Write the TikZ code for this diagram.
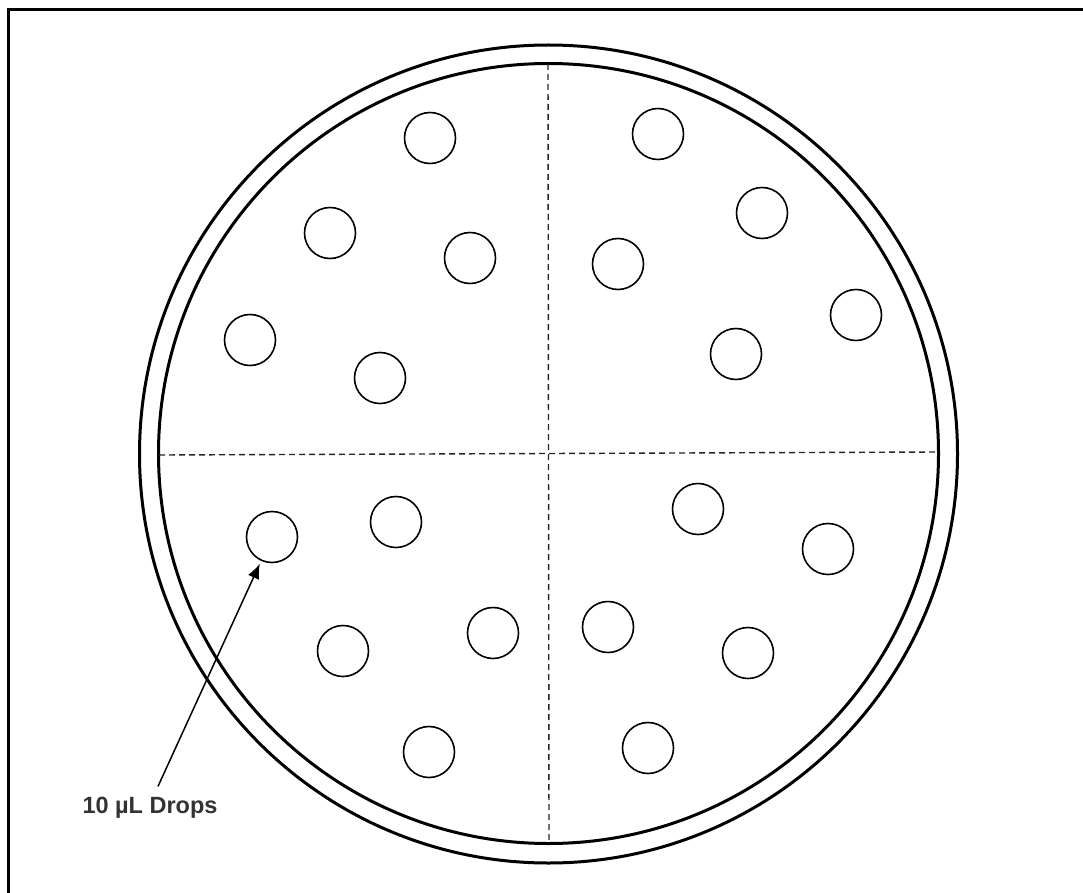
\documentclass[tikz,border=0pt]{standalone}
\usepackage{fontspec}
\setmainfont{Liberation Sans}
\usetikzlibrary{arrows.meta}
\definecolor{txt}{HTML}{333333}
\tikzset{
  drop/.style={circle,draw,line width=1.6pt,minimum size=51pt,inner sep=0pt},
  rim/.style={draw,line width=3pt},
  divider/.style={line width=1.4pt,dash pattern=on 6pt off 4pt,black!85},
  frame/.style={line width=3.2pt},
  pointer/.style={line width=1.5pt,-{Latex[length=15pt,width=12pt]},shorten >=3pt}
}
\begin{document}
\begin{tikzpicture}[x=1pt,y=-1pt]
\useasboundingbox (0,0) rectangle (1083,893);
% frame (only top and left edges visible)
\draw[frame] (8.5,900) -- (8.5,9.5) -- (1090,9.5);
% dish
\draw[rim] (548.5,454) circle[radius=409];
\draw[rim] (548.5,453.5) circle[radius=390];
% quadrant dividers
\coordinate (hl) at (159,455);
\coordinate (hr) at (938,452);
\coordinate (vt) at (548,64);
\coordinate (vb) at (549,844);
\draw[divider] (hl) -- (hr);
\draw[divider] (vt) -- (vb);
% drops
\foreach \n/\x/\y in {
  1/430/138, 2/330/233, 3/470/258, 4/250/340, 5/380/378,
  6/658/134, 7/762/213, 8/618/264, 9/856/315, 10/736/354,
  11/272/537, 12/396/522, 13/343/651, 14/493/633, 15/429/752,
  16/698/509, 17/828/549, 18/608/627, 19/748/653, 20/648/748}
  \node[drop] (d\n) at (\x,\y) {};
% label
\node[font=\bfseries\fontsize{23.5}{27}\selectfont,text=txt,anchor=base,inner sep=10pt] (lbl) at (150,813) {10 µL Drops};
\draw[pointer] ([xshift=8pt]lbl.north) -- (d11);
\end{tikzpicture}
\end{document}
